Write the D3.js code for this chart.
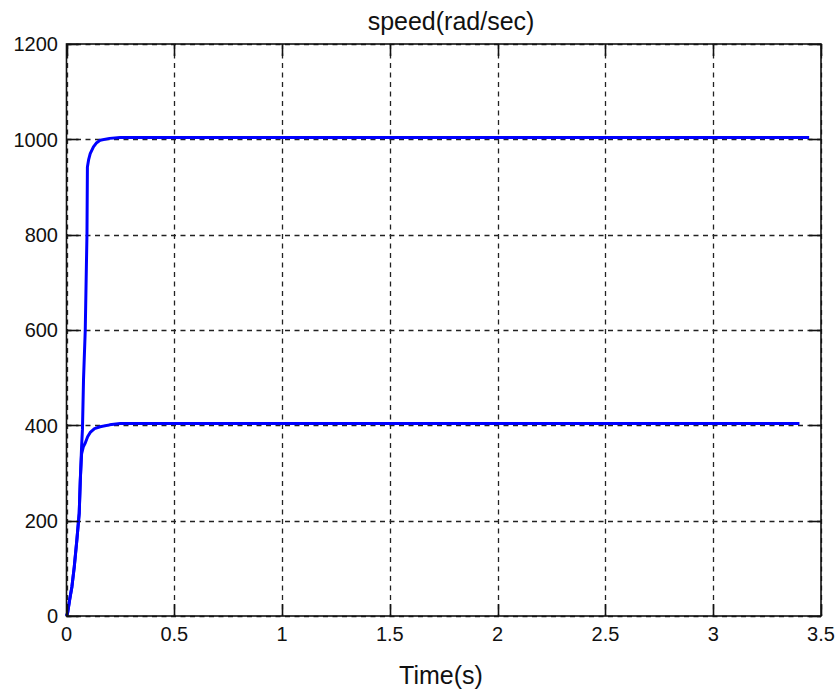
<!DOCTYPE html>
<html>
<head>
<meta charset="utf-8">
<script src="https://cdn.jsdelivr.net/npm/d3@7"></script>
<style>
  html, body { margin: 0; padding: 0; background: #fff; }
  svg { display: block; }
  text { font-family: Arial, "Liberation Sans", sans-serif; fill: #111; }
</style>
</head>
<body>
<svg id="chart" width="837" height="692"></svg>
<script>
// ---- data ----
const title = "speed(rad/sec)";
const xLabel = "Time(s)";
const xTicks = [0, 0.5, 1, 1.5, 2, 2.5, 3, 3.5];
const xTickLabels = ["0", "0.5", "1", "1.5", "2", "2.5", "3", "3.5"];
const yTicks = [0, 200, 400, 600, 800, 1000, 1200];
const yTickLabels = ["0", "200", "400", "600", "800", "1000", "1200"];

const timeHigh  = [0, 0.005, 0.015, 0.025, 0.036, 0.048, 0.059, 0.064, 0.070, 0.074, 0.079, 0.087, 0.095, 0.097, 0.103, 0.110, 0.125, 0.140, 0.156, 0.200, 0.249, 3.445];
const speedHigh = [0, 6, 35, 61, 103, 159, 216, 285, 355, 392, 497, 600, 803, 942, 958, 970, 984, 993, 998, 1002, 1004, 1004];

const timeLow   = [0, 0.005, 0.015, 0.025, 0.036, 0.048, 0.059, 0.064, 0.070, 0.078, 0.087, 0.098, 0.110, 0.130, 0.156, 0.200, 0.249, 3.400];
const speedLow  = [0, 6, 35, 61, 103, 159, 216, 285, 340, 355, 363, 376, 385, 393, 397, 401, 404, 404];

// ---- layout ----
const svg = d3.select("#chart");
const L = 66.5, R = 821, T = 44, B = 616;
const x = d3.scaleLinear().domain([0, 3.5]).range([L, R]);
const y = d3.scaleLinear().domain([0, 1200]).range([B, T]);
const tickLen = 12;
const fs = 20;

// grid
const grid = svg.append("g").attr("stroke", "#222").attr("stroke-width", 1.3).attr("stroke-dasharray", "5,4.5");
grid.selectAll("line.gx").data(xTicks).join("line")
  .attr("x1", d => Math.round(x(d)) + 0.5).attr("x2", d => Math.round(x(d)) + 0.5)
  .attr("y1", T).attr("y2", B);
grid.selectAll("line.gy").data(yTicks).join("line")
  .attr("y1", d => Math.round(y(d)) + 0.5).attr("y2", d => Math.round(y(d)) + 0.5)
  .attr("x1", L).attr("x2", R);

// data lines
const line = d3.line().x(d => x(d[0])).y(d => y(d[1]));
const hi = timeHigh.map((t, i) => [t, speedHigh[i]]);
const lo = timeLow.map((t, i) => [t, speedLow[i]]);
svg.append("path").datum(lo).attr("d", line).attr("fill", "none")
  .attr("stroke", "#0000ff").attr("stroke-width", 3).attr("stroke-linejoin", "round");
svg.append("path").datum(hi).attr("d", line).attr("fill", "none")
  .attr("stroke", "#0000ff").attr("stroke-width", 3).attr("stroke-linejoin", "round");

// box
svg.append("rect").attr("x", L).attr("y", T).attr("width", R - L).attr("height", B - T)
  .attr("fill", "none").attr("stroke", "#111").attr("stroke-width", 1.6);

// ticks (inward, all four sides)
const tk = svg.append("g").attr("stroke", "#111").attr("stroke-width", 1.6);
xTicks.forEach(d => {
  const xp = Math.round(x(d)) + 0.5;
  tk.append("line").attr("x1", xp).attr("x2", xp).attr("y1", B).attr("y2", B - tickLen);
  tk.append("line").attr("x1", xp).attr("x2", xp).attr("y1", T).attr("y2", T + tickLen);
});
yTicks.forEach(d => {
  const yp = Math.round(y(d)) + 0.5;
  tk.append("line").attr("y1", yp).attr("y2", yp).attr("x1", L).attr("x2", L + tickLen);
  tk.append("line").attr("y1", yp).attr("y2", yp).attr("x1", R).attr("x2", R - tickLen);
});

// tick labels
svg.append("g").selectAll("text").data(xTicks).join("text")
  .attr("x", d => x(d)).attr("y", 641).attr("text-anchor", "middle")
  .attr("font-size", fs).text((d, i) => xTickLabels[i]);
svg.append("g").selectAll("text").data(yTicks).join("text")
  .attr("x", 58).attr("y", d => y(d)).attr("dy", "0.36em").attr("text-anchor", "end")
  .attr("font-size", fs).text((d, i) => yTickLabels[i]);

// title and axis label
svg.append("text").attr("x", 451).attr("y", 30).attr("text-anchor", "middle")
  .attr("font-size", 25).text(title);
svg.append("text").attr("x", 441).attr("y", 684).attr("text-anchor", "middle")
  .attr("font-size", 25).text(xLabel);
</script>
</body>
</html>
